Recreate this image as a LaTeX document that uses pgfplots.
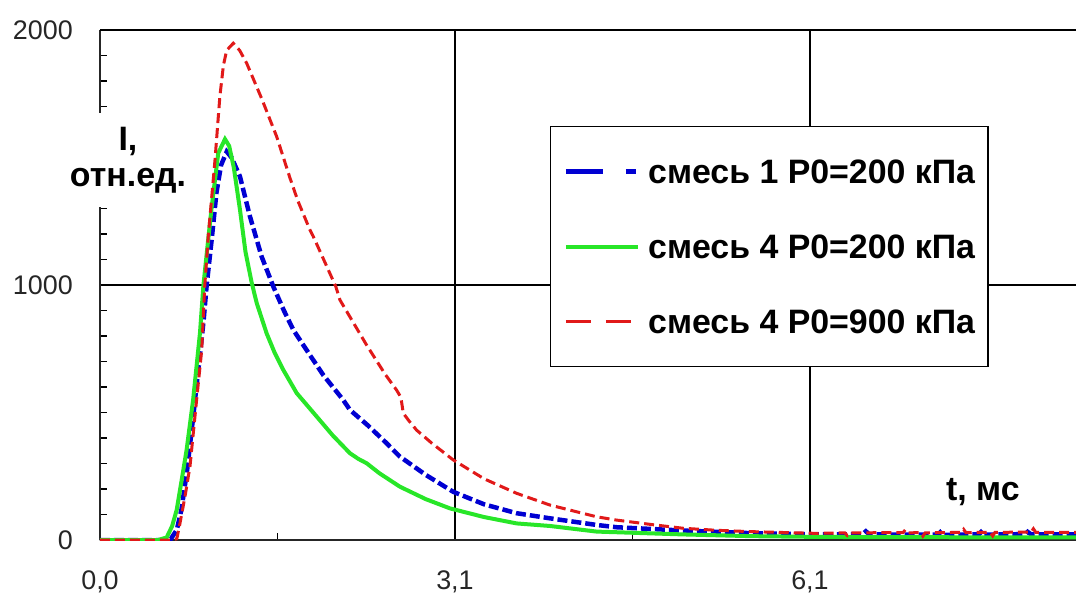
\documentclass[border=0pt]{standalone}
\usepackage{pgfplots}
\pgfplotsset{compat=1.18}
\usepackage{fontspec}
\setmainfont{Liberation Sans}
\definecolor{cblue}{RGB}{0,0,210}
\definecolor{cgreen}{RGB}{40,230,40}
\definecolor{cred}{RGB}{225,25,25}
\newcommand{\bigbold}{\fontsize{34}{36}\selectfont\bfseries}
\begin{document}
\begin{tikzpicture}
\begin{axis}[
  scale only axis, width=976bp, height=510bp,
  xmin=0, xmax=8.386, ymin=0, ymax=2000,
  clip mode=individual,
  axis x line*=bottom, axis y line*=left,
  axis line style={-, black!85, line width=2bp},
  xtick={0,3.05,6.1}, xticklabels={{0,0},{3,1},{6,1}},
  minor xtick={1.525,4.575,7.625},
  ytick={0,1000}, yticklabels={0,1000},
  extra y ticks={2000}, extra y tick labels={2000},
  extra y tick style={major grid style={black, line width=2bp}},
  minor ytick={100,200,...,1900},
  xmajorgrids, ymajorgrids,
  major grid style={black, line width=1.3bp},
  tick align=inside,
  major tick length=0bp, minor tick length=7bp,
  every tick/.style={black, line width=1.2bp},
  ticklabel style={font=\fontsize{27}{27}\selectfont, inner sep=0pt, text=black!85},
  yticklabel style={anchor=east, xshift=-27bp},
  xticklabel style={anchor=north, yshift=-31bp},
  legend image code/.code={\draw[#1] (0bp,0bp) -- (72bp,0bp);},
  legend style={at={(0.461,0.812)}, anchor=north west, draw=black, line width=1.5bp,
    font=\bigbold, inner xsep=13bp, inner ysep=33bp, row sep=51bp, column sep=8bp,
    nodes={inner sep=0pt, text height=24bp, text depth=0bp}},
  legend cell align=left,
]
\addplot[cblue, line width=4.5bp, dash pattern=on 10bp off 4bp, forget plot] coordinates {
(0,0) (0.55,0) (0.61,5) (0.66,40) (0.70,120) (0.75,280) (0.80,480) (0.85,690) (0.89,860)
(0.916,996) (0.96,1180) (1.00,1360) (1.04,1470) (1.089,1523) (1.13,1500) (1.203,1425)
(1.289,1268) (1.389,1111) (1.489,994) (1.58,900) (1.661,824) (1.804,725) (1.918,647)
(2.09,549) (2.148,510) (2.30,450) (2.45,385) (2.577,327) (2.80,255) (3.035,189) (3.30,140)
(3.58,105) (3.866,85) (4.267,59) (4.44,50) (5.01,37) (5.3,32) (5.58,27) (5.9,24) (6.16,22)
(6.55,22) (6.58,34) (6.61,22) (7.00,21) (7.20,21) (7.22,30) (7.24,20) (7.55,22) (7.57,31)
(7.59,21) (7.95,23) (7.97,32) (8.00,22) (8.39,22)};
\addplot[cgreen, line width=4bp, forget plot] coordinates {
(0,0) (0.50,0) (0.573,10) (0.62,55) (0.659,118) (0.70,230) (0.744,353) (0.80,549) (0.859,812)
(0.888,996) (0.93,1180) (0.96,1307) (1.016,1517) (1.074,1572) (1.11,1545) (1.15,1460)
(1.203,1294) (1.25,1130) (1.303,1010) (1.346,930) (1.432,810) (1.50,735) (1.575,667) (1.69,576)
(1.862,484) (2.00,410) (2.148,340) (2.22,318) (2.291,301) (2.40,262) (2.577,209) (2.80,160)
(3.007,124) (3.30,90) (3.58,65) (3.866,55) (4.267,33) (4.6,28) (5.0,22) (5.6,15) (6.2,12)
(7.0,11) (8.39,10)};
\addplot[cred, line width=3bp, dash pattern=on 10bp off 5bp, forget plot] coordinates {
(0,0) (0.62,0) (0.66,5) (0.687,65) (0.73,170) (0.773,288) (0.83,549) (0.874,745) (0.90,996)
(0.93,1190) (0.988,1490) (1.03,1740) (1.06,1860) (1.088,1920) (1.145,1948) (1.20,1920) (1.26,1870)
(1.39,1730) (1.518,1582) (1.632,1420) (1.70,1330) (1.804,1216) (1.833,1190) (2.026,994)
(2.062,941) (2.29,765) (2.45,650) (2.548,588) (2.585,560) (2.606,497) (2.65,470) (2.72,431)
(2.85,380) (3.035,314) (3.30,240) (3.58,183) (3.866,137) (4.267,91) (4.44,78) (4.75,60)
(5.01,46) (5.3,38) (5.58,33) (5.9,29) (6.16,26) (6.40,28) (6.42,18) (6.44,28) (6.90,29)
(6.92,40) (6.94,28) (7.05,29) (7.07,15) (7.09,28) (7.40,30) (7.42,42) (7.44,29) (7.65,30)
(7.67,16) (7.69,30) (8.0,31) (8.02,44) (8.04,30) (8.39,30)};
\addlegendimage{cblue, line width=4.5bp, dash pattern=on 37bp off 23bp on 10bp off 10bp}
\addlegendentry{смесь 1 P0=200 кПа}
\addlegendimage{cgreen, line width=4bp}
\addlegendentry{смесь 4 P0=200 кПа}
\addlegendimage{cred, line width=3bp, dash pattern=on 25bp off 15bp}
\addlegendentry{смесь 4 P0=900 кПа}
\node[fill=white, inner xsep=4bp, inner ysep=14bp, align=center, font=\bigbold, anchor=center]
  at (axis cs:0.24,1490) {I,\\отн.ед.};
\node[font=\bigbold, anchor=base, inner sep=0pt] at (axis cs:7.586,153) {t, мс};
\coordinate (bl) at (rel axis cs:0,0);
\coordinate (tr) at (rel axis cs:1,1);
\end{axis}
\pgfresetboundingbox
\path[use as bounding box] ([shift={(-100bp,-57bp)}]bl) rectangle ([shift={(0bp,30bp)}]tr);
\end{tikzpicture}
\end{document}
